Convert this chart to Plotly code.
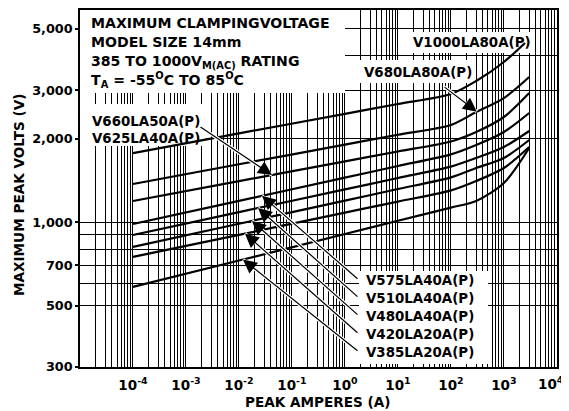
import numpy as np
import plotly.graph_objects as go

# ---- data ----
current = [1e-4, 1e-2, 1, 10, 100, 300, 1000, 3000]
current_v1000 = [1e-4, 1e-2, 1, 10, 100, 300, 1000, 2500]
v1000 = [1775, 2092, 2461, 2671, 2901, 3234, 3787, 4436]
v680 = [1373, 1618, 1906, 2069, 2244, 2499, 2806, 3342]
v625 = [1192, 1406, 1658, 1800, 1956, 2116, 2397, 2925]
v575 = [985, 1194, 1448, 1595, 1757, 1899, 2116, 2478]
v510 = [899, 1087, 1313, 1444, 1587, 1705, 1868, 2134]
v480 = [814, 987, 1196, 1317, 1451, 1569, 1705, 1980]
v420 = [749, 900, 1083, 1187, 1302, 1408, 1569, 1868]
v385 = [584, 727, 906, 1012, 1129, 1193, 1385, 1853]

series = [
    ("V1000LA80A(P)", current_v1000, v1000),
    ("V680LA80A(P)", current, v680),
    ("V660LA50A(P) / V625LA40A(P)", current, v625),
    ("V575LA40A(P)", current, v575),
    ("V510LA40A(P)", current, v510),
    ("V480LA40A(P)", current, v480),
    ("V420LA20A(P)", current, v420),
    ("V385LA20A(P)", current, v385),
]

y_ticks = [300, 500, 700, 1000, 2000, 3000, 5000]
y_ticktext = ["300", "500", "700", "1,000", "2,000", "3,000", "5,000"]
y_minor = [600, 800, 900, 4000]
x_ticks = [10.0 ** k for k in range(-4, 5)]
x_ticktext = ["10<sup>%d</sup>" % k for k in range(-4, 4)] + [""]
last_x_label = "10<sup>4</sup>"
x_minor = [m * 10.0 ** k for k in range(-5, 4) for m in range(2, 10)]

FONT = "DejaVu Sans, Verdana, sans-serif"

# the page body adds an 8px offset; size the figure so the plot area
# lands at page pixels x 80..557, y 10..367
OFF = 8
PL, PT, PR, PB = 80, 10, 557, 367

fig = go.Figure()
for name, cur, volts in series:
    fig.add_trace(go.Scatter(x=cur, y=volts, mode="lines", name=name,
                             line=dict(color="black", width=2.2, shape="spline", smoothing=0.8),
                             showlegend=False, hoverinfo="skip"))

X0, X1 = -5.0, 4.002
Y0, Y1 = np.log10(300), 3.766

def px2x(px):
    return X0 + (px - PL) / (PR - PL) * (X1 - X0)

def px2y(py):
    return Y0 + (PB - py) / (PB - PT) * (Y1 - Y0)

def on_curve(logI, cur, volts):
    return float(np.interp(logI, np.log10(cur), np.log10(volts)))

# white boxes behind labels (cover gridlines)
boxes = [(80, 10, 345, 93), (80, 104, 206, 146), (400, 32, 533, 53),
         (352, 60, 472, 83), (359, 271, 488, 364)]
shapes = []
for (a, b, c, d) in boxes:
    shapes.append(dict(type="rect", xref="x", yref="y",
                       x0=10 ** px2x(a), x1=10 ** px2x(c),
                       y0=10 ** px2y(d), y1=10 ** px2y(b),
                       fillcolor="white", line=dict(width=0), layer="between"))

annotations = []

def text(px, py, s, size=13.4, anchor="left", angle=0, yanchor="middle"):
    annotations.append(dict(x=(px - PL) / (PR - PL), y=(PB - py) / (PB - PT),
                            xref="paper", yref="paper",
                            text=s, showarrow=False, xanchor=anchor, yanchor=yanchor,
                            textangle=angle,
                            font=dict(family=FONT, size=size, color="black", weight="bold")))

text(89, 23, "MAXIMUM CLAMPINGVOLTAGE", 14.1)
text(89, 42, "MODEL SIZE 14mm", 14.1)
text(89, 62, "385 TO 1000V<sub>M(AC)</sub> RATING", 14.1)
text(89, 80, "T<sub>A</sub> = -55<sup>O</sup>C TO 85<sup>O</sup>C", 14.1)
text(90, 121, "V660LA50A(P)")
text(90, 138, "V625LA40A(P)")
text(411, 42, "V1000LA80A(P)")
text(362, 72, "V680LA80A(P)")
for i, s in enumerate(["V575LA40A(P)", "V510LA40A(P)", "V480LA40A(P)",
                       "V420LA20A(P)", "V385LA20A(P)"]):
    text(364, 280 + 18.2 * i, s)

# last x tick label placed inside the page edge
text(566, 372, last_x_label, 13.5, anchor="right", yanchor="top")

# axis titles
text(318, 402, "PEAK AMPERES (A)", 13.6, anchor="center")
text(19, 195, "MAXIMUM PEAK VOLTS (V)", 13.6, anchor="center", angle=-90)

# arrows: (curve index, tip log-current, tail pixel)
arrows = [
    (2, -1.377, (199, 126)),
    (1, 2.49, (443, 86)),
    (3, -1.566, (359, 280)),
    (4, -1.64, (359, 298)),
    (5, -1.755, (359, 316)),
    (6, -1.887, (359, 334)),
    (7, -1.925, (359, 352)),
]
for idx, lx, (tx, ty) in arrows:
    _, cur, volts = series[idx]
    ly = on_curve(lx, cur, volts)
    annotations.append(dict(x=lx, y=ly, xref="x", yref="y", ax=px2x(tx), ay=px2y(ty),
                            axref="x", ayref="y", text="", showarrow=True,
                            arrowhead=0, arrowwidth=3.5, arrowcolor="white"))
    annotations.append(dict(x=lx, y=ly, xref="x", yref="y", ax=px2x(tx), ay=px2y(ty),
                            axref="x", ayref="y", text="", showarrow=True,
                            arrowhead=2, arrowsize=2.3, arrowwidth=1.2, arrowcolor="black"))

W, H = 569 - OFF, 411 - OFF
fig.update_layout(
    width=W, height=H,
    margin=dict(l=PL - OFF, r=W - (PR - OFF), t=PT - OFF, b=H - (PB - OFF)),
    paper_bgcolor="white", plot_bgcolor="white",
    font=dict(family=FONT, color="black", weight="bold"),
    shapes=shapes, annotations=annotations,
    xaxis=dict(type="log", range=[X0, X1], tickvals=x_ticks, ticktext=x_ticktext,
               automargin=False, ticklabeloverflow="allow",
               showgrid=True, gridcolor="black", gridwidth=1,
               showline=True, mirror=True, linecolor="black", linewidth=1.5,
               ticks="outside", ticklen=5, tickcolor="rgba(0,0,0,0)",
               tickfont=dict(family=FONT, size=13.5, weight="bold"),
               minor=dict(tickvals=x_minor, showgrid=True, gridcolor="black", gridwidth=1, ticks=""),
               zeroline=False),
    yaxis=dict(type="log", range=[Y0, Y1], tickvals=y_ticks, ticktext=y_ticktext,
               automargin=False,
               showgrid=True, gridcolor="black", gridwidth=1,
               showline=True, mirror=True, linecolor="black", linewidth=1.5,
               ticks="outside", ticklen=3, tickwidth=1.5, tickcolor="black",
               tickfont=dict(family=FONT, size=12.8, weight="bold"),
               minor=dict(tickvals=y_minor, showgrid=True, gridcolor="black", gridwidth=1, ticks=""),
               zeroline=False),
)

fig.write_html("out.html")
